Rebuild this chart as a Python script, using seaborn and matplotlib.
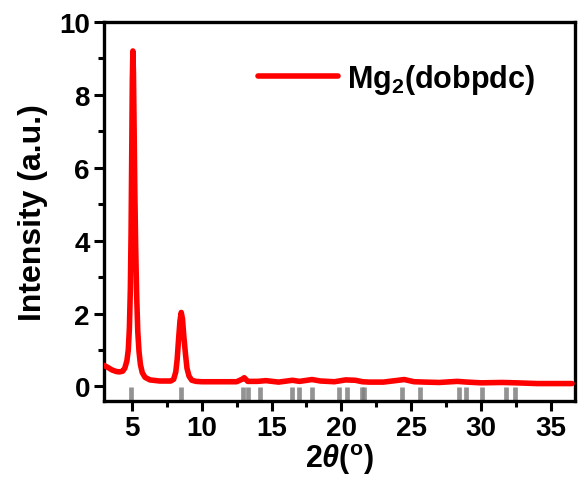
import matplotlib
matplotlib.use("Agg")
import matplotlib.pyplot as plt
import seaborn as sns
import pandas as pd
from matplotlib.ticker import MultipleLocator

# ---- data ----
two_theta = [3.0, 3.3, 3.6, 3.9, 4.1, 4.25, 4.35, 4.5, 4.65, 4.75, 4.83, 4.9, 4.95,
             5.0, 5.04, 5.08, 5.12, 5.17, 5.22, 5.28, 5.35, 5.43, 5.52, 5.62, 5.75,
             5.95, 6.3, 7.0, 7.8, 8.0, 8.15, 8.25, 8.35, 8.45, 8.54, 8.63, 8.73,
             8.84, 8.95, 9.1, 9.3, 9.6, 10.0, 11.0, 12.5, 12.9, 13.05, 13.3, 14.0,
             14.6, 15.5, 16.5, 17.0, 17.9, 18.5, 19.5, 20.3, 21.0, 21.5, 22.0, 23.0,
             24.5, 25.2, 26.0, 27.0, 28.3, 29.0, 30.0, 31.5, 32.5, 34.0, 36.5]
intensity = [0.58, 0.52, 0.45, 0.41, 0.4, 0.41, 0.42, 0.5, 0.7, 1.0, 1.6, 2.7, 4.2,
             6.5, 8.4, 9.2, 8.6, 7.0, 5.3, 3.8, 2.5, 1.5, 0.95, 0.6, 0.38,
             0.25, 0.18, 0.15, 0.15, 0.2, 0.4, 0.75, 1.3, 1.8, 2.03, 1.85, 1.35,
             0.9, 0.5, 0.28, 0.17, 0.14, 0.13, 0.13, 0.13, 0.2, 0.24, 0.14, 0.14,
             0.16, 0.12, 0.17, 0.14, 0.19, 0.15, 0.13, 0.18, 0.17, 0.13, 0.12, 0.12,
             0.19, 0.13, 0.12, 0.11, 0.14, 0.12, 0.1, 0.11, 0.1, 0.08, 0.08]
ref_peaks = [4.98, 8.52, 12.99, 13.35, 14.19, 16.49, 16.99, 17.92, 19.86, 20.43,
             21.5, 21.62, 24.31, 25.6, 28.4, 28.9, 30.05, 31.78, 32.42]
series_label = r"Mg$_2$(dobpdc)"
x_label = r"2$\mathit{\theta}$(${^\mathrm{o}}$)"
y_label = "Intensity (a.u.)"
x_ticks = [5, 10, 15, 20, 25, 30, 35]
y_ticks = [0, 2, 4, 6, 8, 10]

sns.set_style("ticks")
plt.rcParams["font.family"] = ["Liberation Sans", "DejaVu Sans"]
plt.rcParams["font.weight"] = "bold"
plt.rcParams["mathtext.fontset"] = "custom"
plt.rcParams["mathtext.rm"] = "Liberation Sans:bold"
plt.rcParams["mathtext.bf"] = "Liberation Sans:bold"
plt.rcParams["mathtext.it"] = "Liberation Sans:italic:bold"
for k in ["text.color", "axes.labelcolor", "xtick.color", "ytick.color", "axes.edgecolor"]:
    plt.rcParams[k] = "black"

df = pd.DataFrame({"x": two_theta, "y": intensity})

fig = plt.figure(figsize=(5.8, 4.85), dpi=100)
ax = fig.add_axes([0.179, 0.171, 0.812, 0.782])

ax.vlines(ref_peaks, -0.4, -0.02, colors="#808080", linewidth=3.4, alpha=0.85, zorder=1)
sns.lineplot(data=df, x="x", y="y", ax=ax, color="#ff0000", linewidth=4.0,
             label=series_label, sort=False, zorder=3)

ax.set_xlim(3, 36.7)
ax.set_ylim(-0.4, 10)
ax.set_xticks(x_ticks)
ax.set_yticks(y_ticks)
ax.xaxis.set_minor_locator(MultipleLocator(2.5))
ax.yaxis.set_minor_locator(MultipleLocator(1))
ax.tick_params(axis="both", which="major", direction="out", length=7, width=2.2,
               labelsize=20, pad=3)
ax.tick_params(axis="both", which="minor", direction="out", length=4, width=2.2)
for lab in ax.get_xticklabels() + ax.get_yticklabels():
    lab.set_fontweight("bold")
for sp in ax.spines.values():
    sp.set_linewidth(2.4)
    sp.set_visible(True)

ax.set_xlabel(x_label, fontsize=22, fontweight="bold", labelpad=0)
ax.set_ylabel(y_label, fontsize=23, fontweight="bold", labelpad=8)

leg = ax.legend(loc="center left", bbox_to_anchor=(0.27, 0.85), frameon=False,
                fontsize=22, handlelength=2.6, handletextpad=0.3)
for t in leg.get_texts():
    t.set_fontweight("bold")

fig.savefig("out.png", dpi=100)
